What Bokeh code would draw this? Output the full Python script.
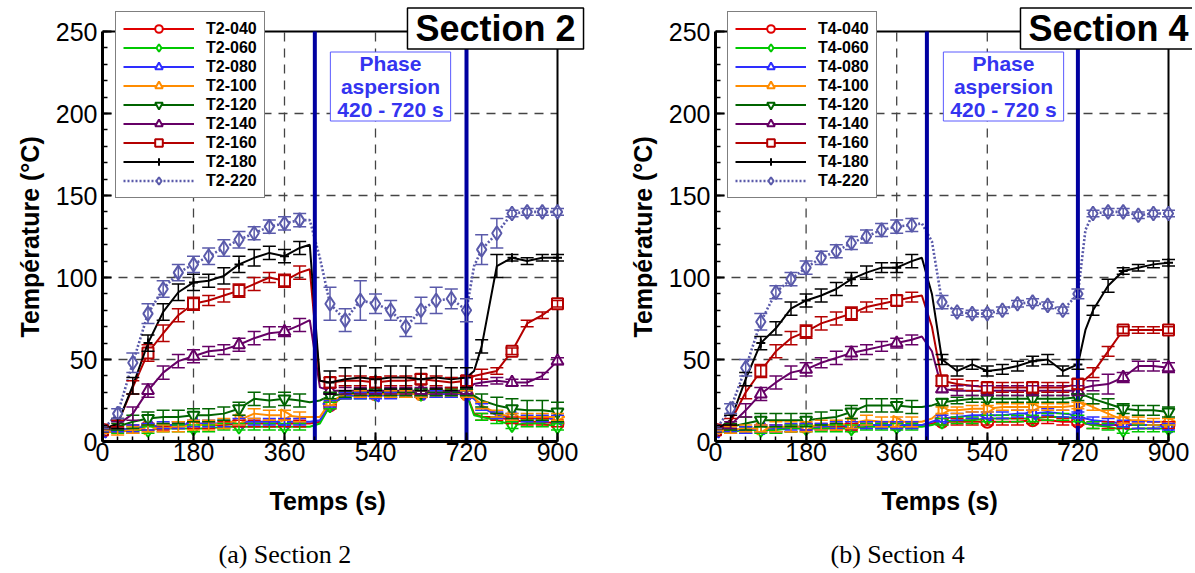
import math
from bokeh.plotting import figure
from bokeh.models import (Range1d, FixedTicker, Label, Legend, LegendItem,
                          Whisker, TeeHead, ColumnDataSource, Title)
from bokeh.layouts import row
from bokeh.embed import file_html
from bokeh.resources import INLINE

# ---------------- data ----------------
T = [0, 30, 60, 90, 120, 150, 180, 210, 240, 270, 300, 330, 360, 390, 410, 430,
     450, 480, 510, 540, 570, 600, 630, 660, 690, 720, 735, 750, 780, 810, 840, 870, 900]

X_TICKS = [0, 180, 360, 540, 720, 900]
Y_TICKS = [0, 50, 100, 150, 200, 250]
PHASE = [420, 720]          # spray phase limits (s)

NAMES_2 = ["T2-040", "T2-060", "T2-080", "T2-100", "T2-120", "T2-140", "T2-160", "T2-180", "T2-220"]
NAMES_4 = ["T4-040", "T4-060", "T4-080", "T4-100", "T4-120", "T4-140", "T4-160", "T4-180", "T4-220"]

# Section 2
T2_040 = [7, 7, 8, 9, 9, 10, 10, 10, 10, 11, 11, 11, 11, 11, 11, 12, 22, 28, 29, 29, 29, 29, 29, 29, 29, 29, 17, 15, 15, 13, 12, 12, 11]
T2_060 = [6, 6, 7, 7, 8, 8, 8, 8, 9, 9, 9, 9, 9, 9, 9, 11, 22, 28, 28, 29, 29, 29, 29, 29, 29, 29, 16, 15, 13, 10, 11, 11, 9]
T2_080 = [6, 7, 8, 9, 10, 10, 11, 11, 11, 12, 12, 12, 12, 12, 12, 13, 23, 28, 28, 28, 28, 29, 29, 29, 29, 29, 26, 21, 16, 15, 14, 14, 14]
T2_100 = [6, 6, 7, 8, 8, 9, 10, 10, 11, 13, 17, 16, 16, 15, 15, 15, 24, 29, 29, 29, 29, 29, 29, 30, 30, 29, 27, 22, 17, 15, 15, 15, 15]
T2_120 = [7, 9, 12, 14, 15, 15, 16, 16, 17, 20, 26, 25, 26, 25, 24, 25, 28, 29, 30, 30, 30, 30, 30, 30, 30, 30, 28, 25, 22, 20, 19, 19, 18]
T2_140 = [7, 10, 17, 31, 42, 49, 52, 55, 56, 59, 63, 66, 67, 71, 74, 33, 31, 31, 31, 31, 31, 31, 31, 31, 31, 31, 35, 36, 37, 36, 36, 40, 49]
T2_160 = [7, 11, 33, 54, 66, 77, 84, 86, 89, 92, 96, 100, 98, 103, 105, 37, 36, 37, 37, 36, 37, 37, 38, 37, 36, 37, 40, 41, 43, 55, 72, 77, 84]
T2_180 = [7, 11, 34, 60, 79, 91, 97, 98, 101, 108, 112, 115, 113, 118, 120, 37, 36, 38, 39, 38, 39, 39, 38, 39, 38, 39, 43, 58, 107, 112, 110, 112, 112]
T2_220 = [7, 17, 48, 78, 93, 103, 108, 113, 118, 123, 127, 131, 133, 135, 135, 112, 84, 74, 86, 84, 80, 70, 80, 86, 87, 80, 107, 117, 127, 139, 140, 140, 140]

E2_040 = [1, 1, 2, 2, 2, 2, 2, 2, 2, 2, 2, 2, 2, 2, 0, 0, 2, 2, 2, 2, 2, 2, 2, 2, 2, 2, 0, 2, 2, 2, 2, 2, 2]
E2_060 = [1, 1, 2, 2, 2, 2, 2, 2, 2, 2, 2, 2, 2, 2, 0, 0, 2, 2, 2, 2, 2, 2, 2, 2, 2, 2, 0, 2, 2, 2, 2, 2, 2]
E2_080 = [1, 1, 2, 2, 2, 2, 2, 2, 2, 2, 2, 2, 2, 2, 0, 0, 2, 2, 2, 2, 2, 2, 2, 2, 2, 2, 0, 2, 2, 2, 2, 2, 2]
E2_100 = [1, 2, 2, 2, 2, 3, 3, 3, 3, 3, 3, 3, 3, 3, 0, 0, 2, 2, 2, 2, 2, 2, 2, 2, 2, 2, 0, 2, 2, 2, 2, 2, 2]
E2_120 = [1, 2, 4, 4, 4, 4, 4, 4, 4, 4, 4, 4, 4, 4, 0, 0, 2, 2, 2, 2, 2, 2, 2, 2, 2, 2, 0, 4, 5, 6, 6, 6, 6]
E2_140 = [1, 2, 4, 4, 4, 4, 4, 3, 3, 4, 4, 4, 3, 4, 0, 0, 2, 2, 2, 2, 2, 2, 2, 2, 2, 2, 0, 2, 2, 2, 2, 2, 2]
E2_160 = [1, 2, 4, 5, 5, 4, 4, 3, 4, 4, 4, 3, 4, 4, 0, 0, 3, 3, 3, 3, 3, 3, 3, 3, 3, 3, 0, 3, 2, 2, 2, 2, 2]
E2_180 = [1, 3, 5, 5, 5, 5, 5, 4, 5, 5, 5, 4, 4, 4, 0, 0, 7, 7, 7, 7, 7, 7, 7, 7, 7, 6, 0, 4, 7, 2, 2, 2, 2]
E2_220 = [1, 3, 6, 6, 5, 5, 5, 5, 5, 5, 4, 4, 4, 4, 0, 0, 10, 7, 12, 6, 6, 6, 8, 8, 6, 7, 0, 9, 9, 2, 2, 2, 2]

# Section 4
T4_040 = [7, 7, 7, 8, 8, 8, 9, 9, 9, 9, 10, 10, 10, 10, 10, 11, 12, 12, 12, 12, 12, 12, 13, 13, 12, 12, 11, 10, 10, 10, 10, 10, 10]
T4_060 = [6, 6, 7, 7, 7, 8, 8, 8, 8, 8, 9, 9, 9, 9, 9, 10, 12, 13, 13, 14, 14, 14, 14, 15, 15, 14, 11, 10, 9, 7, 8, 8, 8]
T4_080 = [6, 7, 7, 8, 8, 9, 9, 9, 10, 10, 10, 10, 10, 10, 10, 12, 14, 15, 16, 16, 16, 17, 17, 18, 17, 16, 14, 13, 12, 11, 10, 10, 9]
T4_100 = [6, 7, 8, 8, 9, 9, 9, 10, 10, 11, 13, 12, 12, 12, 12, 14, 19, 19, 20, 20, 21, 21, 21, 21, 21, 22, 23, 21, 17, 13, 13, 12, 12]
T4_120 = [7, 9, 11, 13, 13, 13, 13, 14, 15, 18, 22, 22, 22, 21, 21, 22, 24, 25, 26, 26, 26, 26, 26, 26, 26, 27, 28, 26, 23, 20, 19, 19, 18]
T4_140 = [7, 10, 19, 29, 36, 42, 44, 48, 51, 54, 56, 58, 60, 62, 64, 55, 32, 31, 31, 31, 31, 31, 31, 31, 31, 31, 33, 34, 35, 39, 46, 46, 45]
T4_160 = [7, 12, 30, 43, 55, 63, 67, 72, 75, 78, 82, 84, 86, 88, 89, 70, 37, 35, 34, 33, 33, 33, 33, 33, 33, 35, 38, 42, 55, 68, 68, 68, 68]
T4_180 = [7, 13, 38, 60, 69, 81, 86, 89, 93, 99, 103, 106, 106, 110, 112, 90, 50, 43, 47, 43, 44, 46, 49, 50, 43, 47, 68, 80, 95, 104, 106, 108, 109]
T4_220 = [7, 20, 45, 73, 91, 99, 106, 112, 116, 121, 125, 129, 131, 132, 133, 122, 85, 79, 78, 78, 80, 84, 85, 83, 80, 90, 129, 139, 140, 140, 138, 139, 139]

E4_040 = [1, 1, 2, 2, 2, 2, 2, 2, 2, 2, 2, 2, 2, 2, 0, 0, 2, 2, 2, 2, 2, 2, 2, 2, 2, 2, 0, 2, 2, 2, 2, 2, 2]
E4_060 = [1, 1, 2, 2, 2, 2, 2, 2, 2, 2, 2, 2, 2, 2, 0, 0, 2, 2, 2, 2, 2, 2, 2, 2, 2, 2, 0, 2, 2, 2, 2, 2, 2]
E4_080 = [1, 1, 2, 2, 2, 2, 2, 2, 2, 2, 2, 2, 2, 2, 0, 0, 2, 2, 2, 2, 2, 2, 2, 2, 2, 2, 0, 2, 2, 2, 2, 2, 2]
E4_100 = [1, 2, 2, 2, 3, 3, 3, 3, 3, 3, 3, 3, 3, 3, 0, 0, 2, 2, 2, 2, 2, 2, 2, 2, 2, 2, 0, 2, 2, 2, 2, 2, 2]
E4_120 = [1, 2, 4, 4, 4, 4, 4, 4, 4, 4, 4, 4, 4, 4, 0, 0, 2, 2, 2, 2, 2, 2, 2, 2, 2, 2, 0, 3, 3, 3, 3, 3, 3]
E4_140 = [1, 2, 4, 4, 4, 4, 4, 3, 4, 4, 3, 3, 3, 3, 0, 0, 2, 3, 3, 3, 3, 3, 3, 3, 3, 3, 0, 3, 6, 3, 3, 3, 3]
E4_160 = [1, 2, 4, 4, 4, 4, 4, 4, 4, 4, 3, 3, 3, 3, 0, 0, 3, 3, 3, 3, 3, 3, 3, 3, 3, 3, 0, 3, 3, 2, 2, 2, 2]
E4_180 = [1, 3, 4, 4, 4, 4, 4, 4, 4, 4, 4, 3, 3, 4, 0, 0, 3, 3, 3, 3, 3, 3, 3, 3, 3, 3, 0, 3, 4, 2, 2, 2, 2]
E4_220 = [1, 3, 5, 5, 4, 4, 4, 4, 4, 4, 4, 4, 4, 4, 0, 0, 4, 2, 2, 2, 2, 2, 2, 2, 2, 3, 0, 2, 2, 2, 2, 2, 2]

SERIES_2 = [T2_040, T2_060, T2_080, T2_100, T2_120, T2_140, T2_160, T2_180, T2_220]
ERRORS_2 = [E2_040, E2_060, E2_080, E2_100, E2_120, E2_140, E2_160, E2_180, E2_220]
SERIES_4 = [T4_040, T4_060, T4_080, T4_100, T4_120, T4_140, T4_160, T4_180, T4_220]
ERRORS_4 = [E4_040, E4_060, E4_080, E4_100, E4_120, E4_140, E4_160, E4_180, E4_220]

# ---------------- styles ----------------
COLORS = ["#e00000", "#00c800", "#2e2eff", "#ff8c00", "#006400", "#660066", "#b40000", "#000000", "#5a5aaa"]
MARKERS = ["circle", "diamond", "triangle", "triangle", "inverted_triangle", "triangle", "square", "cross", "diamond"]
ANGLES = [0, 0, math.pi / 2, -math.pi / 2, 0, 0, 0, 0, 0]
MSIZES = [12, 14, 12, 12, 12, 12, 11, 9, 14]
MARK_EVERY = [90, 90, 90, 90, 90, 90, 90, 90, 30]

FONT = "Liberation Sans"
PLOT_H_PX = 410       # pixel height of the 0-250 span
FRAME_TOP_EXTRA = 31  # px of frame above 250 (room for legend / boxes)
BOTTOM = 131
HEIGHT = 31 - FRAME_TOP_EXTRA + PLOT_H_PX + FRAME_TOP_EXTRA + BOTTOM


def make_panel(names, series, errors, section_text, caption, width, left_border, right_border,
               span_px, legend_x, xlabel_offset, caption_offset):
    frame_w = width - left_border - right_border
    x_end = X_TICKS[-1] * frame_w / span_px
    y_end = Y_TICKS[-1] * (PLOT_H_PX + FRAME_TOP_EXTRA) / PLOT_H_PX
    p = figure(width=width, height=HEIGHT, output_backend="svg", toolbar_location=None,
               x_range=Range1d(0, x_end), y_range=Range1d(0, y_end),
               min_border_left=left_border, min_border_right=right_border,
               min_border_top=31 - FRAME_TOP_EXTRA, min_border_bottom=BOTTOM)
    p.background_fill_color = "white"
    p.border_fill_color = "white"
    p.outline_line_color = None
    p.grid.visible = False

    p.xaxis.ticker = FixedTicker(ticks=X_TICKS, minor_ticks=list(range(0, 901, 30)))
    p.yaxis.ticker = FixedTicker(ticks=Y_TICKS, minor_ticks=list(range(0, 251, 10)))
    p.xaxis.bounds = (X_TICKS[0], X_TICKS[-1])
    p.yaxis.bounds = (Y_TICKS[0], Y_TICKS[-1])
    for ax in (p.xaxis[0], p.yaxis[0]):
        ax.axis_line_width = 3
        ax.axis_line_color = "black"
        ax.major_tick_in = 9
        ax.major_tick_out = 0
        ax.minor_tick_in = 5
        ax.minor_tick_out = 0
        ax.major_tick_line_width = 2
        ax.minor_tick_line_width = 1.5
        ax.major_label_text_font = FONT
        ax.major_label_text_font_size = "25px"
        ax.major_label_text_color = "black"
    p.xaxis.major_label_standoff = 1
    p.yaxis.major_label_standoff = 5

    # axis titles placed as titles so they can be centred on the 0-900 / 0-250 box
    p.add_layout(Title(text="Température (°C)", align="left", offset=104, standoff=18,
                       text_font=FONT, text_font_style="bold", text_font_size="25px",
                       text_color="black"), "left")
    p.add_layout(Title(text="Temps (s)", align="left", offset=xlabel_offset, standoff=42,
                       text_font=FONT, text_font_style="bold", text_font_size="25px",
                       text_color="black"), "below")
    p.add_layout(Title(text=caption, align="left", offset=caption_offset, standoff=4,
                       text_font="Liberation Serif", text_font_style="normal",
                       text_font_size="26px", text_color="black"), "below")

    # dashed grid limited to the 0-900 s / 0-250 °C box
    gx = X_TICKS[1:-1]
    gy = Y_TICKS[1:-1]
    p.segment(x0=gx, y0=[Y_TICKS[0]] * len(gx), x1=gx, y1=[Y_TICKS[-1]] * len(gx),
              line_color="#444444", line_dash="9 7", line_width=1.3)
    p.segment(x0=[X_TICKS[0]] * len(gy), y0=gy, x1=[X_TICKS[-1]] * len(gy), y1=gy,
              line_color="#444444", line_dash="9 7", line_width=1.3)
    # top and right frame lines
    p.segment(x0=[X_TICKS[0], X_TICKS[-1]], y0=[Y_TICKS[-1], Y_TICKS[0]],
              x1=[X_TICKS[-1], X_TICKS[-1]], y1=[Y_TICKS[-1], Y_TICKS[-1]],
              line_color="black", line_width=2)

    items = []
    for name, vals, errs, col, mk, ang, ms, every in zip(names, series, errors, COLORS, MARKERS,
                                                          ANGLES, MSIZES, MARK_EVERY):
        bx = [t for t, e in zip(T, errs) if e > 0]
        lo = [v - e for v, e in zip(vals, errs) if e > 0]
        hi = [v + e for v, e in zip(vals, errs) if e > 0]
        wsrc = ColumnDataSource(dict(x=bx, lo=lo, hi=hi))
        p.add_layout(Whisker(source=wsrc, base="x", lower="lo", upper="hi", level="glyph",
                             line_color=col, line_width=1.5,
                             upper_head=TeeHead(size=13, line_color=col, line_width=1.5),
                             lower_head=TeeHead(size=13, line_color=col, line_width=1.5)))
        dash = "2 2" if name.endswith("220") else "solid"
        lw = 2.6 if name.endswith("220") else 2
        lr = p.line(T, vals, line_color=col, line_width=lw, line_dash=dash)
        mx = [t for t in T if t % every == 0]
        my = [v for t, v in zip(T, vals) if t % every == 0]
        sr = p.scatter(mx, my, marker=mk, size=ms, angle=ang, line_color=col, line_width=2,
                       fill_color="white" if mk != "cross" else col)
        items.append(LegendItem(label=name, renderers=[lr, sr]))

    # spray phase limits
    p.segment(x0=PHASE, y0=[Y_TICKS[0]] * 2, x1=PHASE, y1=[Y_TICKS[-1]] * 2,
              line_color="#0000a0", line_width=4)

    legend = Legend(items=items, location=(legend_x, 243), orientation="vertical",
                    glyph_width=71, glyph_height=19, label_height=19, spacing=0,
                    padding=7, margin=0, label_standoff=12,
                    label_text_font=FONT, label_text_font_style="bold",
                    label_text_font_size="16px", label_text_color="black",
                    border_line_color="black", border_line_width=1,
                    background_fill_color="white", background_fill_alpha=1)
    p.add_layout(legend)

    p.add_layout(Label(x=288, y=355, x_units="screen", y_units="screen",
                       text="Phase\naspersion\n420 - 720 s", text_align="center",
                       text_baseline="middle", text_font=FONT, text_font_style="bold",
                       text_font_size="21px", text_color="#3434f0", text_line_height=1.0,
                       border_line_color="#5a5aff", border_line_width=1,
                       background_fill_color="white",
                       padding=dict(left=7, right=7, top=0, bottom=0)))
    p.add_layout(Label(x=393, y=413, x_units="screen", y_units="screen",
                       text=section_text, text_align="center", text_baseline="middle",
                       text_font=FONT, text_font_style="bold", text_font_size="36px",
                       text_color="black", border_line_color="black", border_line_width=1.5,
                       background_fill_color="white",
                       padding=dict(left=8, right=8, top=0, bottom=0)))
    return p


p1 = make_panel(NAMES_2, SERIES_2, ERRORS_2, "Section 2", "(a) Section 2", 612, 102, 20, 455, 13, 167, 116)
p2 = make_panel(NAMES_4, SERIES_4, ERRORS_4, "Section 4", "(b) Section 4", 580, 103, 0, 453, 12, 166, 115)

layout = row(p1, p2)
open("out.html", "w").write(file_html(layout, INLINE))
